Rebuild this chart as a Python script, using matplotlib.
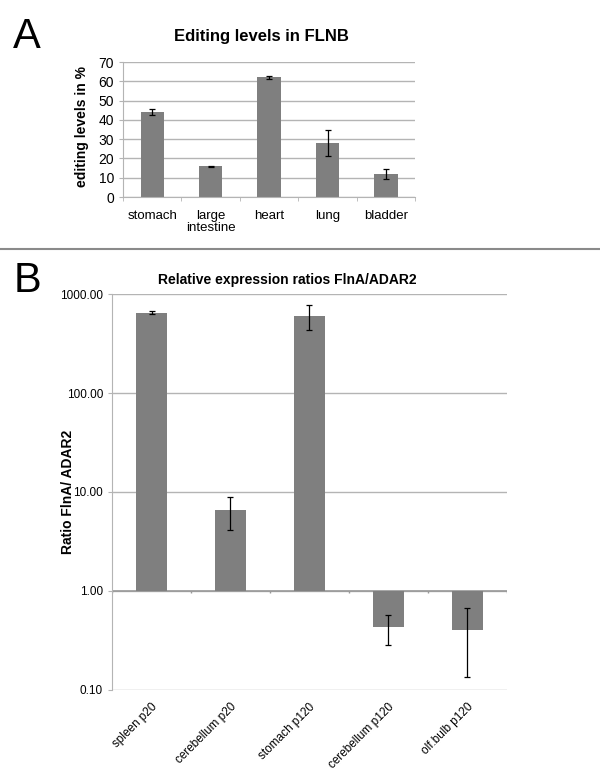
import numpy as np
import matplotlib
matplotlib.use('Agg')
import matplotlib.pyplot as plt
from matplotlib.lines import Line2D

plt.rcParams['font.family'] = ['Liberation Sans', 'DejaVu Sans']

# panel A data
tissues_a = ['stomach', 'large\nintestine', 'heart', 'lung', 'bladder']
editing = [44, 16, 62, 28, 12]
editing_err = [1.5, 0.3, 0.8, 6.5, 2.5]

# panel B data
samples_b = ['spleen p20', 'cerebellum p20', 'stomach p120', 'cerebellum p120', 'olf.bulb p120']
ratio = [650, 6.55, 600, 0.43, 0.405]
ratio_err = [20, 2.4, 170, 0.145, 0.27]

bar_col = '#7f7f7f'
grid_col = '#b4b4b4'

fig = plt.figure(figsize=(6, 7.83), dpi=100)

# ---- panel A
axa = fig.add_axes([0.205, 0.7484, 0.487, 0.1724])
xa = np.arange(len(tissues_a))
axa.bar(xa, editing, width=0.4, color=bar_col, zorder=2)
axa.errorbar(xa, editing, yerr=editing_err, fmt='none', ecolor='black',
             elinewidth=0.9, capsize=2.5, capthick=0.9, zorder=3)
axa.set_xlim(-0.5, len(tissues_a) - 0.5)
axa.set_ylim(0, 70)
axa.set_yticks(np.arange(0, 71, 10))
axa.yaxis.grid(True, color=grid_col, lw=1)
axa.set_axisbelow(True)
for s in ['top', 'right']:
    axa.spines[s].set_visible(False)
axa.spines['left'].set_color(grid_col)
axa.spines['bottom'].set_color(grid_col)
axa.set_xticks(xa)
axa.set_xticklabels(tissues_a, fontsize=9.5, linespacing=1.1)
axa.set_xticks(np.arange(-0.5, len(tissues_a)), minor=True)
axa.tick_params(axis='x', which='major', length=0, pad=9)
axa.tick_params(axis='x', which='minor', length=3, color=grid_col)
axa.tick_params(axis='y', length=3, color=grid_col, labelsize=10)
axa.set_ylabel('editing levels in %', fontsize=10, fontweight='bold')
axa.yaxis.set_label_coords(-0.115, 0.52)
fig.text(0.435, 0.953, 'Editing levels in FLNB', ha='center', va='center',
         fontsize=12, fontweight='bold')
fig.text(0.022, 0.953, 'A', fontsize=30, ha='left', va='center')

# separator
fig.add_artist(Line2D([0, 1], [1 - 249 / 783, 1 - 249 / 783], color='#8a8a8a', lw=1.5))

# ---- panel B
axb = fig.add_axes([0.1867, 0.1188, 0.658, 0.5057])
xb = np.arange(len(samples_b))
heights = [r - 1 for r in ratio]
axb.set_yscale('log')
axb.bar(xb, heights, bottom=1, width=0.4, color=bar_col, zorder=2)
axb.errorbar(xb, ratio, yerr=ratio_err, fmt='none', ecolor='black',
             elinewidth=0.9, capsize=2.5, capthick=0.9, zorder=3)
axb.set_xlim(-0.5, len(samples_b) - 0.5)
axb.set_ylim(0.1, 1000)
axb.set_yticks([0.1, 1, 10, 100, 1000])
axb.set_yticklabels(['0.10', '1.00', '10.00', '100.00', '1000.00'])
axb.yaxis.set_minor_locator(matplotlib.ticker.NullLocator())
axb.yaxis.grid(True, color=grid_col, lw=1)
axb.set_axisbelow(True)
for s in ['top', 'right', 'bottom']:
    axb.spines[s].set_visible(False)
axb.spines['left'].set_color(grid_col)
axb.tick_params(axis='y', length=3, color=grid_col, labelsize=8.5)
axb.axhline(1, color='#999999', lw=1.2, zorder=1)
bnd = np.arange(-0.5, len(samples_b) + 0.5)
axb.vlines(bnd, 0.96, 1.0, color='#999999', lw=1, zorder=1)
axb.set_xticks(xb)
axb.set_xticklabels(samples_b, rotation=45, ha='right', rotation_mode='anchor', fontsize=8.5)
axb.tick_params(axis='x', length=0, pad=8)
axb.set_ylabel('Ratio FlnA/ ADAR2', fontsize=10, fontweight='bold')
axb.yaxis.set_label_coords(-0.095, 0.5)
fig.text(0.478, 1 - 280 / 783, 'Relative expression ratios FlnA/ADAR2', ha='center',
         va='center', fontsize=10, fontweight='bold')
fig.text(0.022, 1 - 281 / 783, 'B', fontsize=30, ha='left', va='center')

fig.savefig('out.png', dpi=100)
